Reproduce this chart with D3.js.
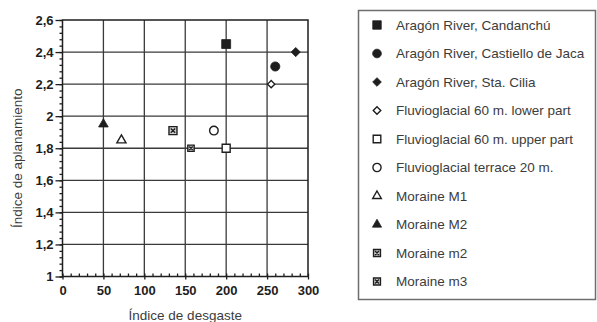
<!DOCTYPE html>
<html>
<head>
<meta charset="utf-8">
<script src="https://cdn.jsdelivr.net/npm/d3@7"></script>
<style>
  html, body { margin: 0; padding: 0; background: #fff; }
  svg text { font-family: "Liberation Sans", Arial, Helvetica, sans-serif; }
</style>
</head>
<body>
<svg id="chart" width="597" height="322"></svg>
<script>
// Sample groups (legend order)
const series = [
  "Aragón River, Candanchú",
  "Aragón River, Castiello de Jaca",
  "Aragón River, Sta. Cilia",
  "Fluvioglacial 60 m. lower part",
  "Fluvioglacial 60 m. upper part",
  "Fluvioglacial terrace 20 m.",
  "Moraine M1",
  "Moraine M2",
  "Moraine m2",
  "Moraine m3"
];
// Índice de desgaste (x) and Índice de aplanamiento (y) per group
const desgaste     = [200, 260, 285, 255, 200, 185, 72, 50, 157, 135];
const aplanamiento = [2.45, 2.31, 2.40, 2.20, 1.80, 1.91, 1.85, 1.95, 1.80, 1.91];
// Marker shape per group
const shapes = ["squareFill", "circleFill", "diamondFill", "diamondOpen", "squareOpen",
                "circleOpen", "triangleOpen", "triangleFill", "crossSquareSmall", "crossSquare"];

const xTicks = [0, 50, 100, 150, 200, 250, 300];
const yTicks = [1, 1.2, 1.4, 1.6, 1.8, 2, 2.2, 2.4, 2.6];

const svg = d3.select("#chart");
const x = d3.scaleLinear().domain([0, 300]).range([62.5, 308]);
const y = d3.scaleLinear().domain([1, 2.6]).range([276.5, 20]);

const ink = "#1e1e1e";
const fmt = d => String(d).replace(".", ",");

// Grid
const grid = svg.append("g").attr("stroke", "#3a3a3a").attr("stroke-width", 1.3);
grid.selectAll("line.v").data(xTicks.slice(1, -1)).join("line")
  .attr("x1", d => x(d)).attr("x2", d => x(d))
  .attr("y1", y(2.6)).attr("y2", y(1));
grid.selectAll("line.h").data(yTicks.slice(1, -1)).join("line")
  .attr("x1", x(0)).attr("x2", x(300))
  .attr("y1", d => y(d)).attr("y2", d => y(d));

// Axes
const yAxis = d3.axisLeft(y).tickValues(yTicks).tickFormat(fmt).tickSize(7).tickPadding(2);
const yMinor = d3.axisLeft(y).tickValues(d3.range(1, 2.6001, 0.04)).tickFormat("").tickSize(3);
const xAxis = d3.axisBottom(x).tickValues(xTicks).tickSize(3).tickPadding(6);
const xMinor = d3.axisTop(x).tickValues(d3.range(0, 301, 10)).tickFormat("").tickSize(3);

function styleAxis(g) {
  g.select(".domain").remove();
  g.selectAll("line").attr("stroke", ink).attr("stroke-width", 1.3);
  g.selectAll("text").attr("fill", ink).attr("font-size", 13).attr("font-weight", 600);
}
svg.append("g").attr("transform", `translate(${x(0)},0)`).call(yMinor).call(styleAxis);
svg.append("g").attr("transform", `translate(${x(0)},0)`).call(yAxis).call(styleAxis);
svg.append("g").attr("transform", `translate(0,${y(1)})`).call(xMinor).call(styleAxis);
svg.append("g").attr("transform", `translate(0,${y(1)})`).call(xAxis).call(styleAxis);

// Frame
svg.append("rect")
  .attr("x", x(0)).attr("y", y(2.6))
  .attr("width", x(300) - x(0)).attr("height", y(1) - y(2.6))
  .attr("fill", "none").attr("stroke", ink).attr("stroke-width", 1.5);

// Axis titles
svg.append("text")
  .attr("x", (x(0) + x(300)) / 2).attr("y", 320)
  .attr("text-anchor", "middle").attr("font-size", 13.5).attr("fill", "#3c3c3c")
  .text("Índice de desgaste");
svg.append("text")
  .attr("transform", `translate(22,${(y(1) + y(2.6)) / 2 + 10}) rotate(-90)`)
  .attr("text-anchor", "middle").attr("font-size", 13.5).attr("fill", "#3c3c3c")
  .text("Índice de aplanamiento");

// Marker shapes
const diamondType = {
  draw(ctx, size) {
    const r = Math.sqrt(size / 2);
    ctx.moveTo(0, -r); ctx.lineTo(r, 0); ctx.lineTo(0, r); ctx.lineTo(-r, 0); ctx.closePath();
  }
};
const crossSquareType = {
  draw(ctx, size) {
    const h = Math.sqrt(size) / 2;
    ctx.moveTo(-h, -h); ctx.lineTo(h, -h); ctx.lineTo(h, h); ctx.lineTo(-h, h); ctx.closePath();
    const k = h * 0.55;
    ctx.moveTo(-k, -k); ctx.lineTo(k, k);
    ctx.moveTo(k, -k); ctx.lineTo(-k, k);
  }
};
const markerDef = {
  squareFill:       { type: d3.symbolSquare,   size: 80, fill: true },
  circleFill:       { type: d3.symbolCircle,   size: 66, fill: true },
  diamondFill:      { type: diamondType,       size: 42, fill: true },
  diamondOpen:      { type: diamondType,       size: 26, fill: false },
  squareOpen:       { type: d3.symbolSquare,   size: 64, fill: false },
  circleOpen:       { type: d3.symbolCircle,   size: 58, fill: false },
  triangleOpen:     { type: d3.symbolTriangle, size: 36, fill: false },
  triangleFill:     { type: d3.symbolTriangle, size: 40, fill: true },
  crossSquareSmall: { type: crossSquareType,   size: 40, fill: false },
  crossSquare:      { type: crossSquareType,   size: 64, fill: false }
};
function drawMarker(sel, shape, scale) {
  const m = markerDef[shape];
  sel.attr("d", d3.symbol().type(m.type).size(m.size * scale)())
    .attr("fill", m.fill ? ink : (shape.startsWith("cross") ? "#cfcfcf" : "#fff"))
    .attr("stroke", ink)
    .attr("stroke-width", m.fill ? 0.8 : 1.4);
}

// Points
const data = series.map((name, i) => ({ name, x: desgaste[i], y: aplanamiento[i], shape: shapes[i] }));
svg.append("g").selectAll("path").data(data).join("path")
  .attr("transform", d => `translate(${x(d.x)},${y(d.y)})`)
  .each(function (d) { drawMarker(d3.select(this), d.shape, 1); });

// Legend
const legend = svg.append("g");
legend.append("rect")
  .attr("x", 358.5).attr("y", 10.5).attr("width", 237).attr("height", 289)
  .attr("fill", "#fff").attr("stroke", "#6e6e6e").attr("stroke-width", 1.5);
const legendScale = { crossSquareSmall: 1.2, crossSquare: 0.75, diamondFill: 0.9, diamondOpen: 1.1 };
const rows = legend.selectAll("g.row").data(data).join("g")
  .attr("transform", (d, i) => `translate(377,${25 + i * 28.5})`);
rows.append("path").each(function (d) {
  drawMarker(d3.select(this), d.shape, legendScale[d.shape] || 0.9);
});
rows.append("text")
  .attr("x", 19).attr("dy", "0.36em")
  .attr("font-size", 13.5).attr("fill", "#3c3c3c")
  .text(d => d.name);
</script>
</body>
</html>
